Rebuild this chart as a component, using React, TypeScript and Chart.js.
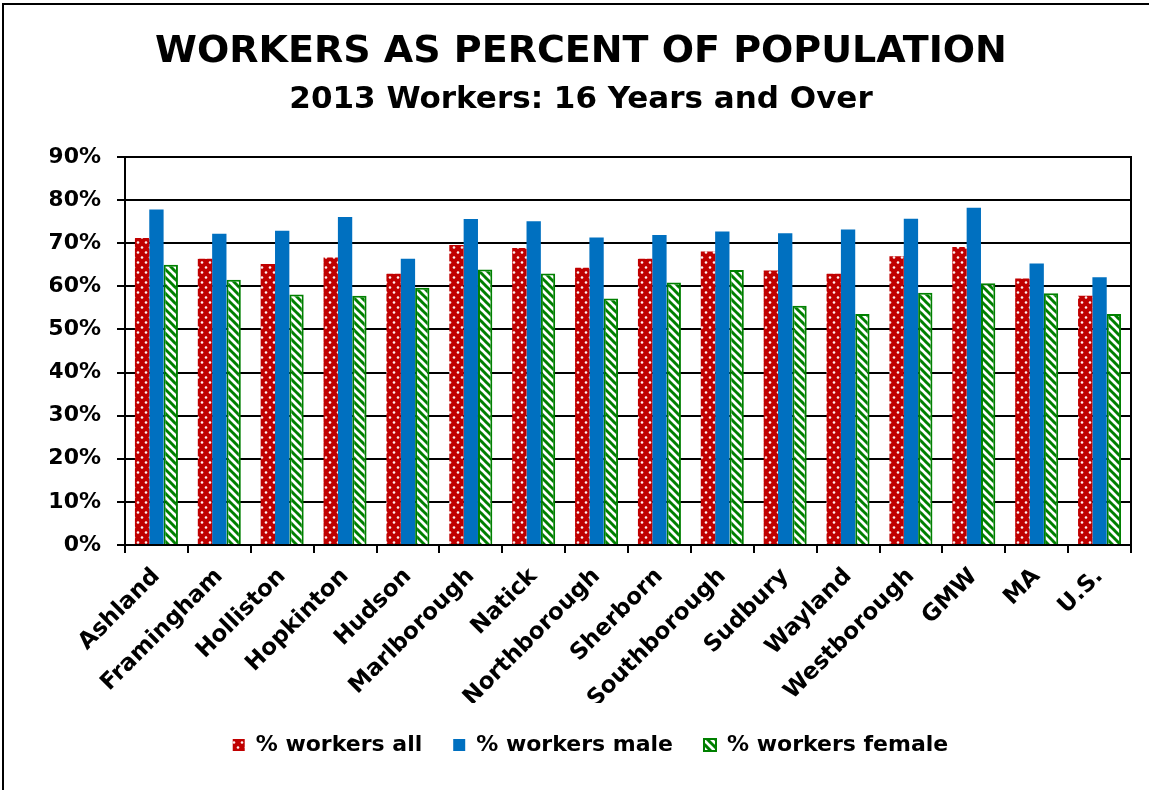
import React, { useEffect, useRef } from "react";
import { Chart, registerables } from "chart.js";

Chart.register(...registerables);

const TITLE = "WORKERS AS PERCENT OF POPULATION";
const SUBTITLE = "2013 Workers: 16 Years and Over";

const categories = [
  "Ashland", "Framingham", "Holliston", "Hopkinton", "Hudson", "Marlborough",
  "Natick", "Northborough", "Sherborn", "Southborough", "Sudbury", "Wayland",
  "Westborough", "GMW", "MA", "U.S.",
];

const seriesNames = ["% workers all", "% workers male", "% workers female"];

const workersAll = [71.2, 66.4, 65.2, 66.7, 62.9, 69.6, 68.9, 64.3, 66.4, 68.1, 63.7, 62.9, 67.0, 69.1, 61.8, 57.8];
const workersMale = [77.8, 72.2, 72.9, 76.1, 66.4, 75.6, 75.1, 71.3, 71.9, 72.7, 72.3, 73.2, 75.7, 78.2, 65.3, 62.1];
const workersFemale = [65.0, 61.5, 58.1, 57.8, 59.7, 63.9, 63.0, 57.2, 60.9, 63.8, 55.5, 53.6, 58.5, 60.7, 58.4, 53.6];

const yMin = 0;
const yMax = 90;
const yStep = 10;

const FONT = '"DejaVu Sans", "Liberation Sans", Arial, sans-serif';

function makeDotPattern(ctx: CanvasRenderingContext2D): CanvasPattern | string {
  const w = 8;
  const h = 10;
  const c = document.createElement("canvas");
  c.width = w;
  c.height = h;
  const g = c.getContext("2d");
  if (!g) return "#C00000";
  g.fillStyle = "#C00000";
  g.fillRect(0, 0, w, h);
  g.fillStyle = "rgba(255,240,240,1)";
  for (const [x, y] of [[2, 2.5], [6, 7.5]]) {
    g.beginPath();
    g.arc(x, y, 1.3, 0, Math.PI * 2);
    g.fill();
  }
  return ctx.createPattern(c, "repeat") || "#C00000";
}

function makeStripePattern(ctx: CanvasRenderingContext2D): CanvasPattern | string {
  const s = 8;
  const c = document.createElement("canvas");
  c.width = s;
  c.height = s;
  const g = c.getContext("2d");
  if (!g) return "#008000";
  g.fillStyle = "#ffffff";
  g.fillRect(0, 0, s, s);
  g.strokeStyle = "#008000";
  g.lineWidth = 3;
  for (const k of [-s, 0, s]) {
    g.beginPath();
    g.moveTo(k - 1, -1);
    g.lineTo(k + s + 1, s + 1);
    g.stroke();
  }
  return ctx.createPattern(c, "repeat") || "#008000";
}

const decorPlugin = {
  id: "decor",
  beforeDraw(chart: any) {
    const ctx = chart.ctx;
    ctx.save();
    ctx.fillStyle = "#ffffff";
    ctx.fillRect(0, 0, chart.width, chart.height);
    ctx.restore();
  },
  afterDraw(chart: any) {
    const { ctx, chartArea } = chart;
    ctx.save();
    // outer chart border (left and top visible)
    ctx.fillStyle = "#000";
    ctx.fillRect(2, 3, 2, chart.height);
    ctx.fillRect(2, 3, chart.width, 2);
    // plot area right border
    ctx.strokeStyle = "#000";
    ctx.lineWidth = 2;
    ctx.beginPath();
    ctx.moveTo(chartArea.right, chartArea.top - 1);
    ctx.lineTo(chartArea.right, chartArea.bottom + 1);
    ctx.stroke();
    // titles
    ctx.fillStyle = "#000";
    ctx.textAlign = "center";
    ctx.textBaseline = "alphabetic";
    ctx.font = `bold 38px ${FONT}`;
    ctx.fillText(TITLE, 581, 62);
    ctx.font = `bold 31px ${FONT}`;
    ctx.fillText(SUBTITLE, 581, 108);
    ctx.restore();
  },
};

export default function App() {
  const canvasRef = useRef<HTMLCanvasElement | null>(null);

  useEffect(() => {
    document.body.style.margin = "0";
    const canvas = canvasRef.current;
    if (!canvas) return;
    const ctx = canvas.getContext("2d");
    if (!ctx) return;

    Chart.defaults.font.family = FONT;
    Chart.defaults.color = "#000";

    const chart = new Chart(ctx, {
      type: "bar",
      data: {
        labels: categories,
        datasets: [
          {
            label: seriesNames[0],
            data: workersAll,
            backgroundColor: makeDotPattern(ctx),
            borderWidth: 0,
          },
          {
            label: seriesNames[1],
            data: workersMale,
            backgroundColor: "#0070C0",
            borderWidth: 0,
          },
          {
            label: seriesNames[2],
            data: workersFemale,
            backgroundColor: makeStripePattern(ctx),
            borderColor: "#008000",
            borderWidth: 2,
          },
        ],
      },
      options: {
        responsive: false,
        animation: false,
        events: [],
        datasets: {
          bar: {
            categoryPercentage: 0.684,
            barPercentage: 1.0,
          },
        },
        layout: {
          padding: { left: 50, right: 18, top: 157, bottom: 24 },
        },
        plugins: {
          title: { display: false },
          tooltip: { enabled: false },
          legend: {
            display: true,
            position: "bottom",
            labels: {
              boxWidth: 12,
              boxHeight: 12,
              padding: 31,
              color: "#000",
              font: { family: FONT, size: 22, weight: "bold" },
            },
          },
        },
        scales: {
          x: {
            offset: true,
            grid: {
              display: true,
              offset: true,
              drawOnChartArea: false,
              drawTicks: true,
              tickLength: 8,
              color: "#000",
              lineWidth: 2,
            },
            border: { display: true, color: "#000", width: 2 },
            ticks: {
              autoSkip: false,
              minRotation: 45,
              maxRotation: 45,
              padding: 10,
              labelOffset: 0,
              color: "#000",
              font: { family: FONT, size: 23, weight: "bold" },
            },
            afterFit: (scale: any) => {
              scale.height = 158;
            },
          },
          y: {
            min: yMin,
            max: yMax,
            grid: {
              display: true,
              drawOnChartArea: true,
              drawTicks: true,
              tickLength: 8,
              color: "#000",
              lineWidth: 2,
            },
            border: { display: true, color: "#000", width: 2 },
            ticks: {
              stepSize: yStep,
              padding: 16,
              color: "#000",
              font: { family: FONT, size: 22, weight: "bold" },
              callback: (v: any) => `${v}%`,
            },
            afterFit: (scale: any) => {
              scale.width = 75;
            },
          },
        },
      },
      plugins: [decorPlugin],
    } as any);

    return () => {
      chart.destroy();
    };
  }, []);

  return (
    <div style={{ position: "absolute", left: 0, top: 0, width: 1149, height: 790 }}>
      <canvas ref={canvasRef} width={1149} height={790} style={{ display: "block" }} />
    </div>
  );
}
